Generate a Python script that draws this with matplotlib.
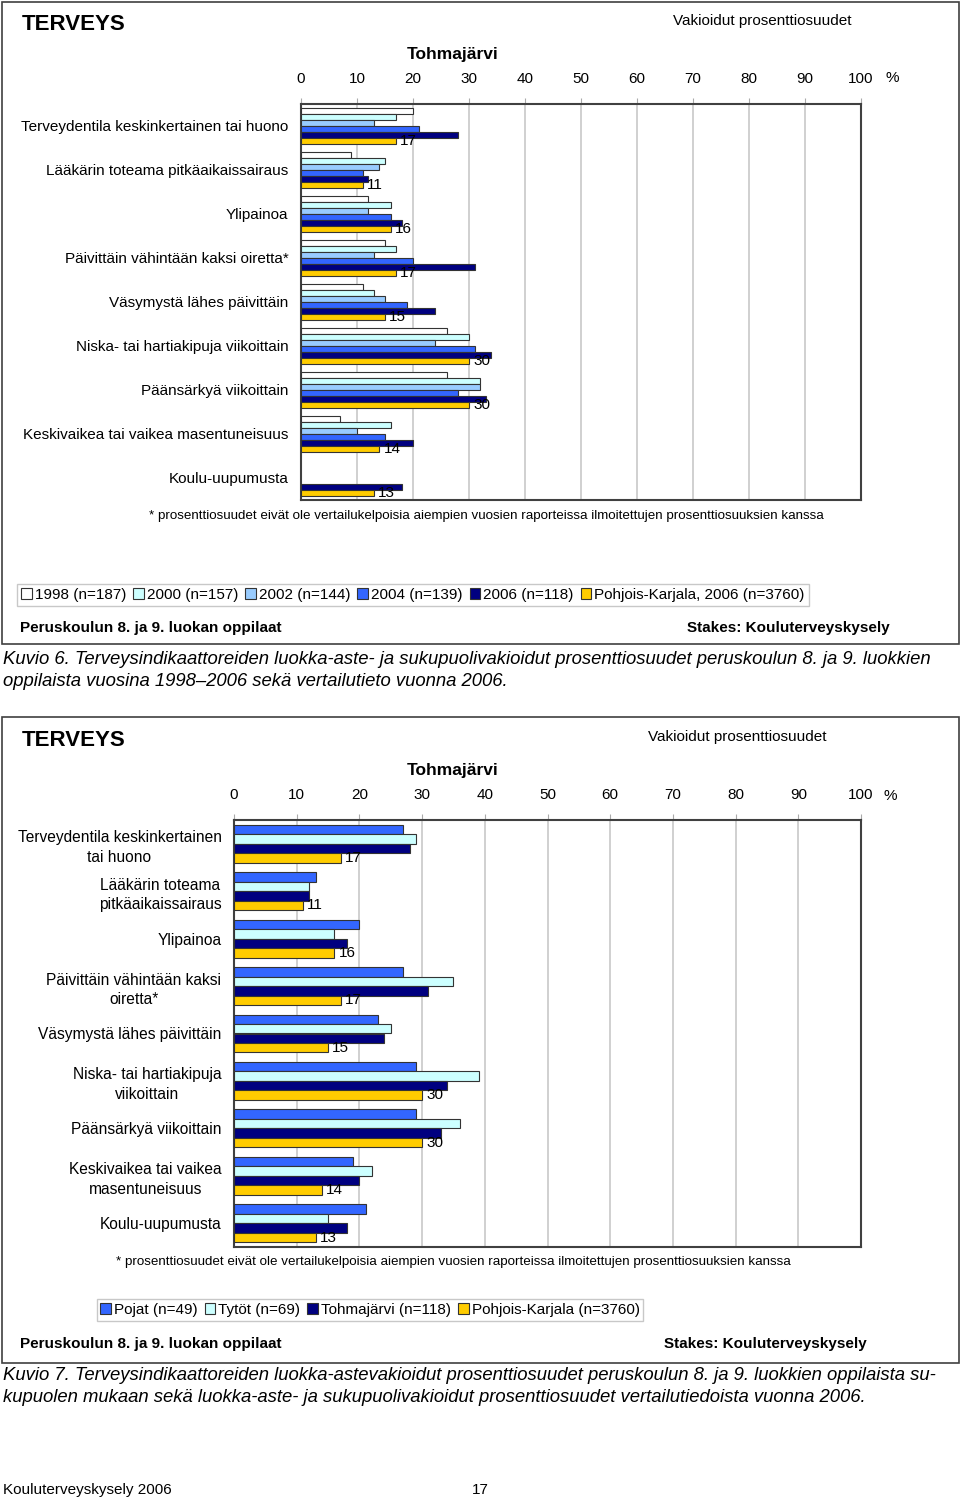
import numpy as np
import matplotlib
matplotlib.use("Agg")
from matplotlib import pyplot as plt
from matplotlib.patches import Patch, Rectangle

plt.rcParams['font.family'] = ['Liberation Sans', 'DejaVu Sans']

# --- data, chart 1 (years) ---
cats1 = ["Terveydentila keskinkertainen tai huono",
         "Lääkärin toteama pitkäaikaissairaus",
         "Ylipainoa",
         "Päivittäin vähintään kaksi oiretta*",
         "Väsymystä lähes päivittäin",
         "Niska- tai hartiakipuja viikoittain",
         "Päänsärkyä viikoittain",
         "Keskivaikea tai vaikea masentuneisuus",
         "Koulu-uupumusta"]
y1998 = [20, 9, 12, 15, 11, 26, 26, 7, np.nan]
y2000 = [17, 15, 16, 17, 13, 30, 32, 16, np.nan]
y2002 = [13, 14, 12, 13, 15, 24, 32, 10, np.nan]
y2004 = [21, 11, 16, 20, 19, 31, 28, 15, np.nan]
y2006 = [28, 12, 18, 31, 24, 34, 33, 20, 18]
pk2006 = [17, 11, 16, 17, 15, 30, 30, 14, 13]
names1 = ["1998 (n=187)", "2000 (n=157)", "2002 (n=144)", "2004 (n=139)",
          "2006 (n=118)", "Pohjois-Karjala, 2006 (n=3760)"]

# --- data, chart 2 (gender) ---
cats2 = ["Terveydentila keskinkertainen\ntai huono",
         "Lääkärin toteama\npitkäaikaissairaus",
         "Ylipainoa",
         "Päivittäin vähintään kaksi\noiretta*",
         "Väsymystä lähes päivittäin",
         "Niska- tai hartiakipuja\nviikoittain",
         "Päänsärkyä viikoittain",
         "Keskivaikea tai vaikea\nmasentuneisuus",
         "Koulu-uupumusta"]
pojat = [27, 13, 20, 27, 23, 29, 29, 19, 21]
tytot = [29, 12, 16, 35, 25, 39, 36, 22, 15]
tohma = [28, 12, 18, 31, 24, 34, 33, 20, 18]
pk = [17, 11, 16, 17, 15, 30, 30, 14, 13]
names2 = ["Pojat (n=49)", "Tytöt (n=69)", "Tohmajärvi (n=118)", "Pohjois-Karjala (n=3760)"]

xticks = list(range(0, 101, 10))
W, H = 960, 1500

col1 = ["#FFFFFF", "#CCFFFF", "#99CCFF", "#3366FF", "#000080", "#FFCC00"]
col2 = ["#3366FF", "#CCFFFF", "#000080", "#FFCC00"]
edge = "#333333"

fig = plt.figure(figsize=(W / 100, H / 100), dpi=100)

# background axes in pixel coords for boxes and texts
bg = fig.add_axes([0, 0, 1, 1])
bg.set_xlim(0, W)
bg.set_ylim(H, 0)
bg.axis("off")


def px(x0, y0, x1, y1):
    return [x0 / W, 1 - y1 / H, (x1 - x0) / W, (y1 - y0) / H]


def bar_chart(rect, cats, series, colors, bh, labsize):
    ax = fig.add_axes(px(*rect))
    n = len(series)
    pos = np.arange(len(cats))
    for k, (vals, c) in enumerate(zip(series, colors)):
        bars = ax.barh(pos + (k - (n - 1) / 2) * bh, vals, height=bh, color=c,
                       edgecolor=edge, linewidth=0.8, zorder=3)
        if k == n - 1:
            ax.bar_label(bars, fmt="%d", padding=3, fontsize=11, zorder=4)
    ax.set_xlim(0, 100)
    ax.set_ylim(len(cats) - 0.5, -0.5)
    ax.set_yticks(pos)
    ax.set_yticklabels(cats, fontsize=labsize, multialignment="center",
                       linespacing=1.4)
    ax.set_xticks(xticks)
    ax.xaxis.tick_top()
    ax.tick_params(axis="x", length=4, color="#AAAAAA", pad=9, labelsize=11)
    ax.tick_params(axis="y", length=0, pad=9)
    ax.grid(axis="x", color="#C8C8C8", linewidth=1.2, zorder=0)
    for s in ax.spines.values():
        s.set_color("#404040")
        s.set_linewidth(1.5)
    return ax


# ---------- panel 1 ----------
bg.add_patch(Rectangle((1.5, 2), 957, 642, fill=False, ec="#404040", lw=1.2))
bar_chart((301, 104, 861, 500), cats1,
          [y1998, y2000, y2002, y2004, y2006, pk2006], col1, 0.14, 11)
bg.text(22, 25, "TERVEYS", fontsize=16, fontweight="bold", va="center")
bg.text(673, 21, "Vakioidut prosenttiosuudet", fontsize=11, va="center")
bg.text(453, 55, "Tohmajärvi", fontsize=12.5, fontweight="bold", ha="center", va="center")
bg.text(885, 78, "%", fontsize=11, va="center")
bg.text(149, 516, "* prosenttiosuudet eivät ole vertailukelpoisia aiempien vuosien "
        "raporteissa ilmoitettujen prosenttiosuuksien kanssa", fontsize=9.6, va="center")
h1 = [Patch(fc=c, ec=edge, lw=0.8, label=l) for c, l in zip(col1, names1)]
fig.legend(handles=h1, loc="center", bbox_to_anchor=(413 / W, 1 - 595 / H),
           ncol=6, fontsize=11, frameon=True, fancybox=False, edgecolor="#BBBBBB",
           handlelength=0.7, handleheight=0.7, handletextpad=0.2,
           columnspacing=0.45, borderpad=0.25, borderaxespad=0)
bg.text(20, 628, "Peruskoulun 8. ja 9. luokan oppilaat", fontsize=11,
        fontweight="bold", va="center")
bg.text(890, 628, "Stakes: Kouluterveyskysely", fontsize=11,
        fontweight="bold", va="center", ha="right")
bg.text(3, 660, "Kuvio 6. Terveysindikaattoreiden luokka-aste- ja sukupuolivakioidut "
        "prosenttiosuudet peruskoulun 8. ja 9. luokkien", fontsize=13.3,
        style="italic", va="center")
bg.text(3, 682, "oppilaista vuosina 1998–2006 sekä vertailutieto vuonna 2006.",
        fontsize=13.3, style="italic", va="center")

# ---------- panel 2 ----------
bg.add_patch(Rectangle((1.5, 717), 957, 646, fill=False, ec="#404040", lw=1.2))
bar_chart((234, 820, 861, 1247), cats2, [pojat, tytot, tohma, pk], col2, 0.2, 11.2)
bg.text(22, 741, "TERVEYS", fontsize=16, fontweight="bold", va="center")
bg.text(648, 737, "Vakioidut prosenttiosuudet", fontsize=11, va="center")
bg.text(453, 771, "Tohmajärvi", fontsize=12.5, fontweight="bold", ha="center", va="center")
bg.text(884, 796, "%", fontsize=11, va="center")
bg.text(116, 1262, "* prosenttiosuudet eivät ole vertailukelpoisia aiempien vuosien "
        "raporteissa ilmoitettujen prosenttiosuuksien kanssa", fontsize=9.6, va="center")
h2 = [Patch(fc=c, ec=edge, lw=0.8, label=l) for c, l in zip(col2, names2)]
fig.legend(handles=h2, loc="center", bbox_to_anchor=(370 / W, 1 - 1310 / H),
           ncol=4, fontsize=11, frameon=True, fancybox=False, edgecolor="#BBBBBB",
           handlelength=0.7, handleheight=0.7, handletextpad=0.2,
           columnspacing=0.45, borderpad=0.25, borderaxespad=0)
bg.text(20, 1344, "Peruskoulun 8. ja 9. luokan oppilaat", fontsize=11,
        fontweight="bold", va="center")
bg.text(867, 1344, "Stakes: Kouluterveyskysely", fontsize=11,
        fontweight="bold", va="center", ha="right")
bg.text(3, 1376, "Kuvio 7. Terveysindikaattoreiden luokka-astevakioidut prosenttiosuudet "
        "peruskoulun 8. ja 9. luokkien oppilaista su-", fontsize=13.3,
        style="italic", va="center")
bg.text(3, 1397, "kupuolen mukaan sekä luokka-aste- ja sukupuolivakioidut prosenttiosuudet "
        "vertailutiedoista vuonna 2006.", fontsize=13.3, style="italic", va="center")

# footer
bg.text(3, 1490, "Kouluterveyskysely 2006", fontsize=11, va="center")
bg.text(472, 1490, "17", fontsize=11, va="center")

fig.savefig("out.png", dpi=100)
